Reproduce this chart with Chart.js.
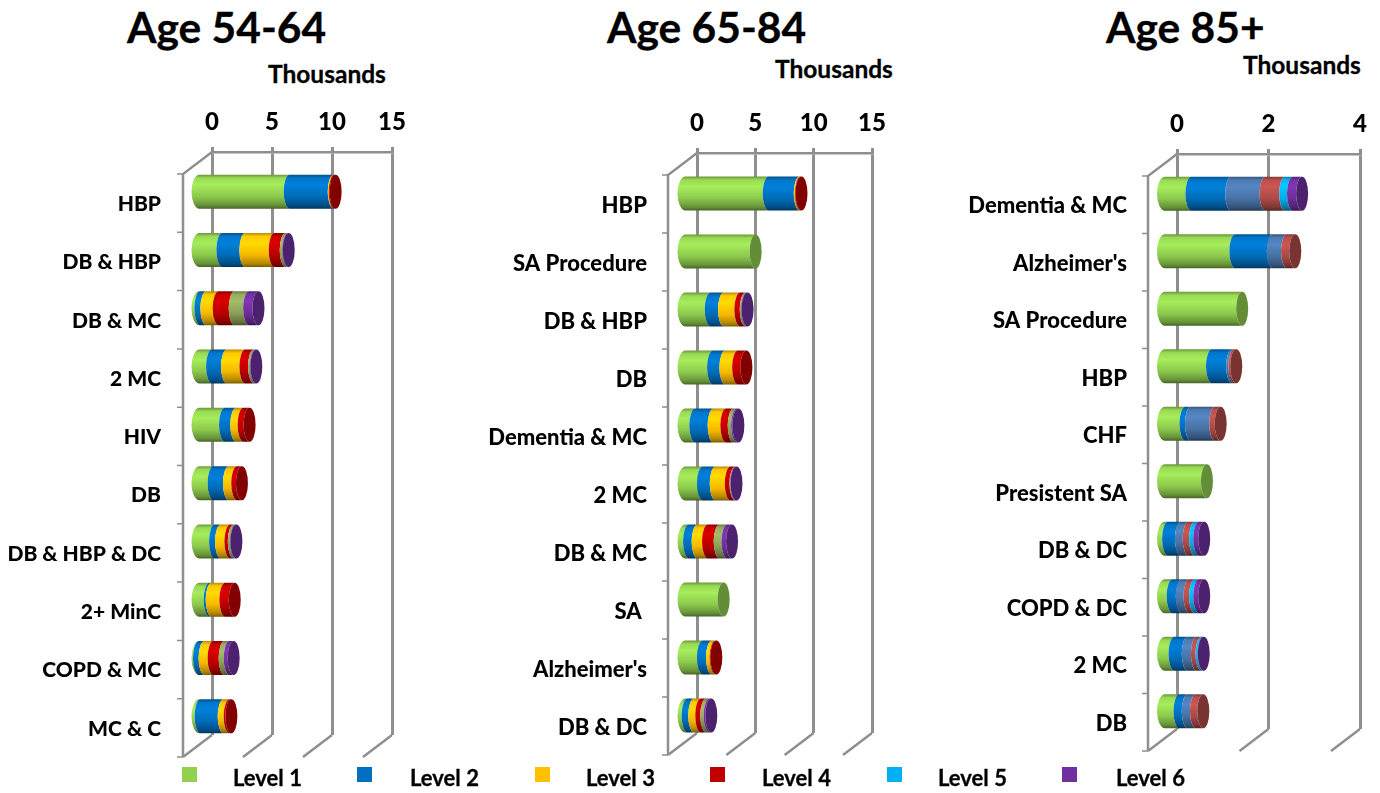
<!DOCTYPE html>
<html>
<head>
<meta charset="utf-8">
<title>Age panels</title>
<script src="https://cdn.jsdelivr.net/npm/chart.js@4"></script>
<style>
    html, body { margin: 0; padding: 0; background: #fff; overflow: hidden; }
    body { position: relative; width: 1380px; height: 793px; font-family: Lato, sans-serif; font-weight: bold; color: #000; }
    canvas { position: absolute; }
    .txt { position: absolute; white-space: pre; line-height: 1; -webkit-text-stroke: 0.3px #000; }
    .title { font-size: 42.5px; }
    .unit { font-size: 24.5px; }
    .legendText { font-size: 22px; }
    .swatch { position: absolute; width: 15px; height: 15px; }
</style>
</head>
<body>
<script>
const levelNames = ['Level 1', 'Level 2', 'Level 3', 'Level 4', 'Level 5', 'Level 6'];
const legendColors = ['#92D050', '#0070C0', '#FFC000', '#C00000', '#00B0F0', '#7030A0'];

// Age 54-64
const youngLabels = ['HBP', 'DB & HBP', 'DB & MC', '2 MC', 'HIV', 'DB', 'DB & HBP & DC', '2+ MinC', 'COPD & MC', 'MC & C'];
const youngL1 = [7.64, 2.03, 0.2, 1.17, 2.25, 1.3, 1.42, 0.97, 0.08, 0.22];
const youngL2 = [3.67, 1.92, 0.5, 1.25, 0.94, 1.28, 0.5, 0.17, 0.47, 1.92];
const youngL3 = [0.08, 2.44, 1.03, 1.53, 0.61, 0.69, 0.78, 1.14, 0.75, 0.5];
const youngL4 = [0.08, 0.92, 1.33, 0.72, 0.5, 0.39, 0.28, 0.78, 0.92, 0.14];
const youngL5 = [0, 0.2, 1.2, 0.14, 0, 0, 0.17, 0, 0.42, 0];
const youngL6 = [0, 0.05, 0.78, 0.05, 0, 0, 0.05, 0, 0.33, 0];
const youngTicks = [0, 5, 10, 15];

// Age 65-84
const midLabels = ['HBP', 'SA Procedure', 'DB & HBP', 'DB', 'Dementia & MC', '2 MC', 'DB & MC', 'SA ', "Alzheimer's", 'DB & DC'];
const midL1 = [7.26, 6.14, 2.29, 2.49, 0.97, 1.63, 0.43, 3.4, 1.63, 0.31];
const midL2 = [2.66, 0, 1.14, 1.06, 1.57, 1.09, 0.74, 0, 0.77, 0.57];
const midL3 = [0.1, 0, 1.4, 1.09, 1.09, 1.29, 0.89, 0, 0.31, 0.6];
const midL4 = [0.05, 0, 0.46, 0.71, 0.63, 0.4, 1, 0, 0.06, 0.43];
const midL5 = [0, 0, 0.11, 0, 0.29, 0.05, 0.66, 0, 0, 0.29];
const midL6 = [0, 0, 0.05, 0, 0.11, 0.04, 0.4, 0, 0, 0.14];
const midTicks = [0, 5, 10, 15];

// Age 85+
const oldLabels = ['Dementia & MC', "Alzheimer's", 'SA Procedure', 'HBP', 'CHF', 'Presistent SA', 'DB & DC', 'COPD & DC', '2 MC', 'DB'];
const oldL1 = [0.61, 1.57, 1.72, 1.06, 0.48, 0.95, 0.1, 0.2, 0.24, 0.35];
const oldL2 = [0.87, 0.82, 0, 0.44, 0.12, 0, 0.28, 0.2, 0.29, 0.18];
const oldL3 = [0.75, 0.31, 0, 0.05, 0.53, 0, 0.17, 0.17, 0.2, 0.18];
const oldL4 = [0.43, 0.18, 0, 0.04, 0.12, 0, 0.14, 0.12, 0.1, 0.16];
const oldL5 = [0.17, 0, 0, 0, 0, 0, 0.09, 0.09, 0.04, 0];
const oldL6 = [0.2, 0, 0, 0, 0, 0, 0.11, 0.11, 0.01, 0];
const oldTicks = [0, 2, 4];

const warmColors = ['#92D050', '#0070C0', '#FFC000', '#C00000', '#8FA65A', '#7030A0'];
const coolColors = ['#92D050', '#0070C0', '#4A76AB', '#B24C49', '#00B0F0', '#7030A0'];

const wallColor = '#8f8f8f';

function shade(hex, f) {
    const n = parseInt(hex.slice(1), 16);
    const c = [n >> 16, (n >> 8) & 255, n & 255].map(v => Math.min(255, Math.round(v * f)));
    return 'rgb(' + c.join(',') + ')';
}

function cylinderFill(ctx, color, top, h) {
    const g = ctx.createLinearGradient(0, top, 0, top + h);
    g.addColorStop(0, shade(color, 0.72));
    g.addColorStop(0.1, shade(color, 1.05));
    g.addColorStop(0.3, shade(color, 1.14));
    g.addColorStop(0.65, shade(color, 0.96));
    g.addColorStop(0.9, shade(color, 0.7));
    g.addColorStop(1, shade(color, 0.48));
    return g;
}

// walls, floor lines and the cylinders are drawn from the chart's scales
const pseudo3d = {
    id: 'pseudo3d',
    beforeDatasetsDraw(chart, args, opts) {
        const { ctx, chartArea: a, scales } = chart;
        ctx.save();
        ctx.strokeStyle = wallColor;
        ctx.lineWidth = 2.5;
        ctx.beginPath();
        ctx.moveTo(a.left, a.top);
        ctx.lineTo(a.left - opts.depthX, a.top + opts.depthY);
        ctx.lineTo(a.left - opts.depthX, a.bottom + opts.depthY);
        scales.x.ticks.forEach(t => {
            const px = scales.x.getPixelForValue(t.value);
            ctx.moveTo(px, a.bottom);
            ctx.lineTo(px - opts.depthX, a.bottom + opts.depthY);
        });
        ctx.stroke();
        // small marks on the front edge, one per category boundary
        ctx.lineWidth = 1.5;
        ctx.beginPath();
        const band = (a.bottom - a.top) / chart.data.labels.length;
        for (let i = 0; i <= chart.data.labels.length; i++) {
            const y = a.top + opts.depthY + band * i;
            ctx.moveTo(a.left - opts.depthX, y);
            ctx.lineTo(a.left - opts.depthX - 6, y);
        }
        ctx.stroke();
        ctx.restore();
    },
    beforeDatasetDraw() {
        return false;
    },
    afterDatasetsDraw(chart, args, opts) {
        const { ctx } = chart;
        const rx = opts.capRadius;
        const count = chart.data.labels.length;
        for (let j = 0; j < count; j++) {
            let last = null;
            chart.data.datasets.forEach((ds, i) => {
                if (!ds.data[j]) return;
                const bar = chart.getDatasetMeta(i).data[j];
                const x0 = bar.base + opts.shiftX, x1 = bar.x + opts.shiftX;
                const cy = bar.y + opts.shiftY, ry = bar.height / 2;
                // the far left end of the cylinder sticks out a little more
                const startRx = last ? rx : opts.startRadius;
                ctx.beginPath();
                ctx.ellipse(x0, cy, startRx, ry, 0, -Math.PI / 2, Math.PI / 2, true);
                ctx.lineTo(x1, cy + ry);
                ctx.ellipse(x1, cy, rx, ry, 0, Math.PI / 2, -Math.PI / 2, false);
                ctx.closePath();
                ctx.fillStyle = cylinderFill(ctx, ds.backgroundColor, cy - ry, ry * 2);
                ctx.fill();
                last = { x1, cy, ry, color: ds.backgroundColor };
            });
            if (last) {
                ctx.beginPath();
                ctx.ellipse(last.x1, last.cy, rx, last.ry, 0, 0, Math.PI * 2);
                ctx.fillStyle = shade(last.color, 0.68);
                ctx.fill();
            }
        }
    }
};

function makePanel(cfg) {
    const canvas = document.createElement('canvas');
    canvas.width = cfg.width;
    canvas.height = 670;
    canvas.style.left = cfg.left + 'px';
    canvas.style.top = '100px';
    document.body.appendChild(canvas);

    new Chart(canvas.getContext('2d'), {
        type: 'bar',
        data: {
            labels: cfg.labels,
            datasets: cfg.series.map((values, i) => ({
                label: levelNames[i],
                data: values,
                backgroundColor: cfg.colors[i],
                barThickness: 34
            }))
        },
        options: {
            indexAxis: 'y',
            responsive: false,
            animation: false,
            layout: { padding: { right: cfg.width - (cfg.right - cfg.left), bottom: 670 - (cfg.bottom - 100) } },
            scales: {
                x: {
                    position: 'top',
                    stacked: true,
                    min: 0,
                    max: cfg.ticks[cfg.ticks.length - 1],
                    afterBuildTicks: function (scale) {
                        scale.ticks = cfg.ticks.map(v => ({ value: v }));
                    },
                    afterFit: function (scale) {
                        scale.height = cfg.top - 100;
                        scale.paddingLeft = 0;
                        scale.paddingRight = 0;
                    },
                    grid: { color: wallColor, lineWidth: 3, tickLength: 5 },
                    border: { color: wallColor, width: 2.5 },
                    ticks: {
                        color: '#000',
                        padding: 10,
                        maxRotation: 0,
                        font: { family: 'Lato', weight: '900', size: 24 }
                    }
                },
                y: {
                    stacked: true,
                    afterFit: function (scale) {
                        scale.width = cfg.zero - cfg.left;
                        scale.paddingTop = 0;
                        scale.paddingBottom = 0;
                    },
                    grid: { display: false, drawTicks: false },
                    border: { display: false },
                    ticks: {
                        color: '#000',
                        autoSkip: false,
                        padding: cfg.zero - cfg.labelEnd,
                        labelOffset: cfg.labelShift,
                        font: { family: 'Lato', weight: '900', size: cfg.labelSize }
                    }
                }
            },
            plugins: {
                legend: { display: false },
                tooltip: { enabled: false },
                pseudo3d: { depthX: 29, depthY: 22, shiftX: cfg.shiftX, shiftY: cfg.shiftY, capRadius: 6, startRadius: 8 }
            }
        },
        plugins: [pseudo3d]
    });
}

function addText(cls, text, x, cy) {
    const d = document.createElement('div');
    d.className = 'txt ' + cls;
    d.textContent = text;
    d.style.left = x + 'px';
    document.body.appendChild(d);
    d.style.top = (cy - d.offsetHeight / 2) + 'px';
}

makePanel({ left: 0, width: 460, zero: 212, right: 392, top: 152, bottom: 735, labelEnd: 161, labelShift: 23, labelSize: 21, shiftX: -14, shiftY: 10.5,
    labels: youngLabels, ticks: youngTicks, colors: warmColors, series: [youngL1, youngL2, youngL3, youngL4, youngL5, youngL6] });
makePanel({ left: 470, width: 460, zero: 697, right: 872, top: 153, bottom: 733, labelEnd: 647, labelShift: 24, labelSize: 22, shiftX: -13, shiftY: 11.5,
    labels: midLabels, ticks: midTicks, colors: warmColors, series: [midL1, midL2, midL3, midL4, midL5, midL6] });
makePanel({ left: 930, width: 450, zero: 1177, right: 1360, top: 154, bottom: 729, labelEnd: 1127, labelShift: 23.5, labelSize: 22, shiftX: -13.5, shiftY: 11,
    labels: oldLabels, ticks: oldTicks, colors: coolColors, series: [oldL1, oldL2, oldL3, oldL4, oldL5, oldL6] });

addText('title', 'Age 54-64', 127, 27);
addText('title', 'Age 65-84', 607, 27);
addText('title', 'Age 85+', 1106, 27);
addText('unit', 'Thousands', 268, 74);
addText('unit', 'Thousands', 775, 69);
addText('unit', 'Thousands', 1243, 65);

const swatchX = [182, 357, 535, 710, 887, 1062];
const legendTextX = [233, 410, 586, 762, 938, 1116];
levelNames.forEach((name, i) => {
    const s = document.createElement('div');
    s.className = 'swatch';
    s.style.left = swatchX[i] + 'px';
    s.style.top = '767px';
    s.style.background = legendColors[i];
    document.body.appendChild(s);
    addText('legendText', name, legendTextX[i], 778);
});
</script>
</body>
</html>
